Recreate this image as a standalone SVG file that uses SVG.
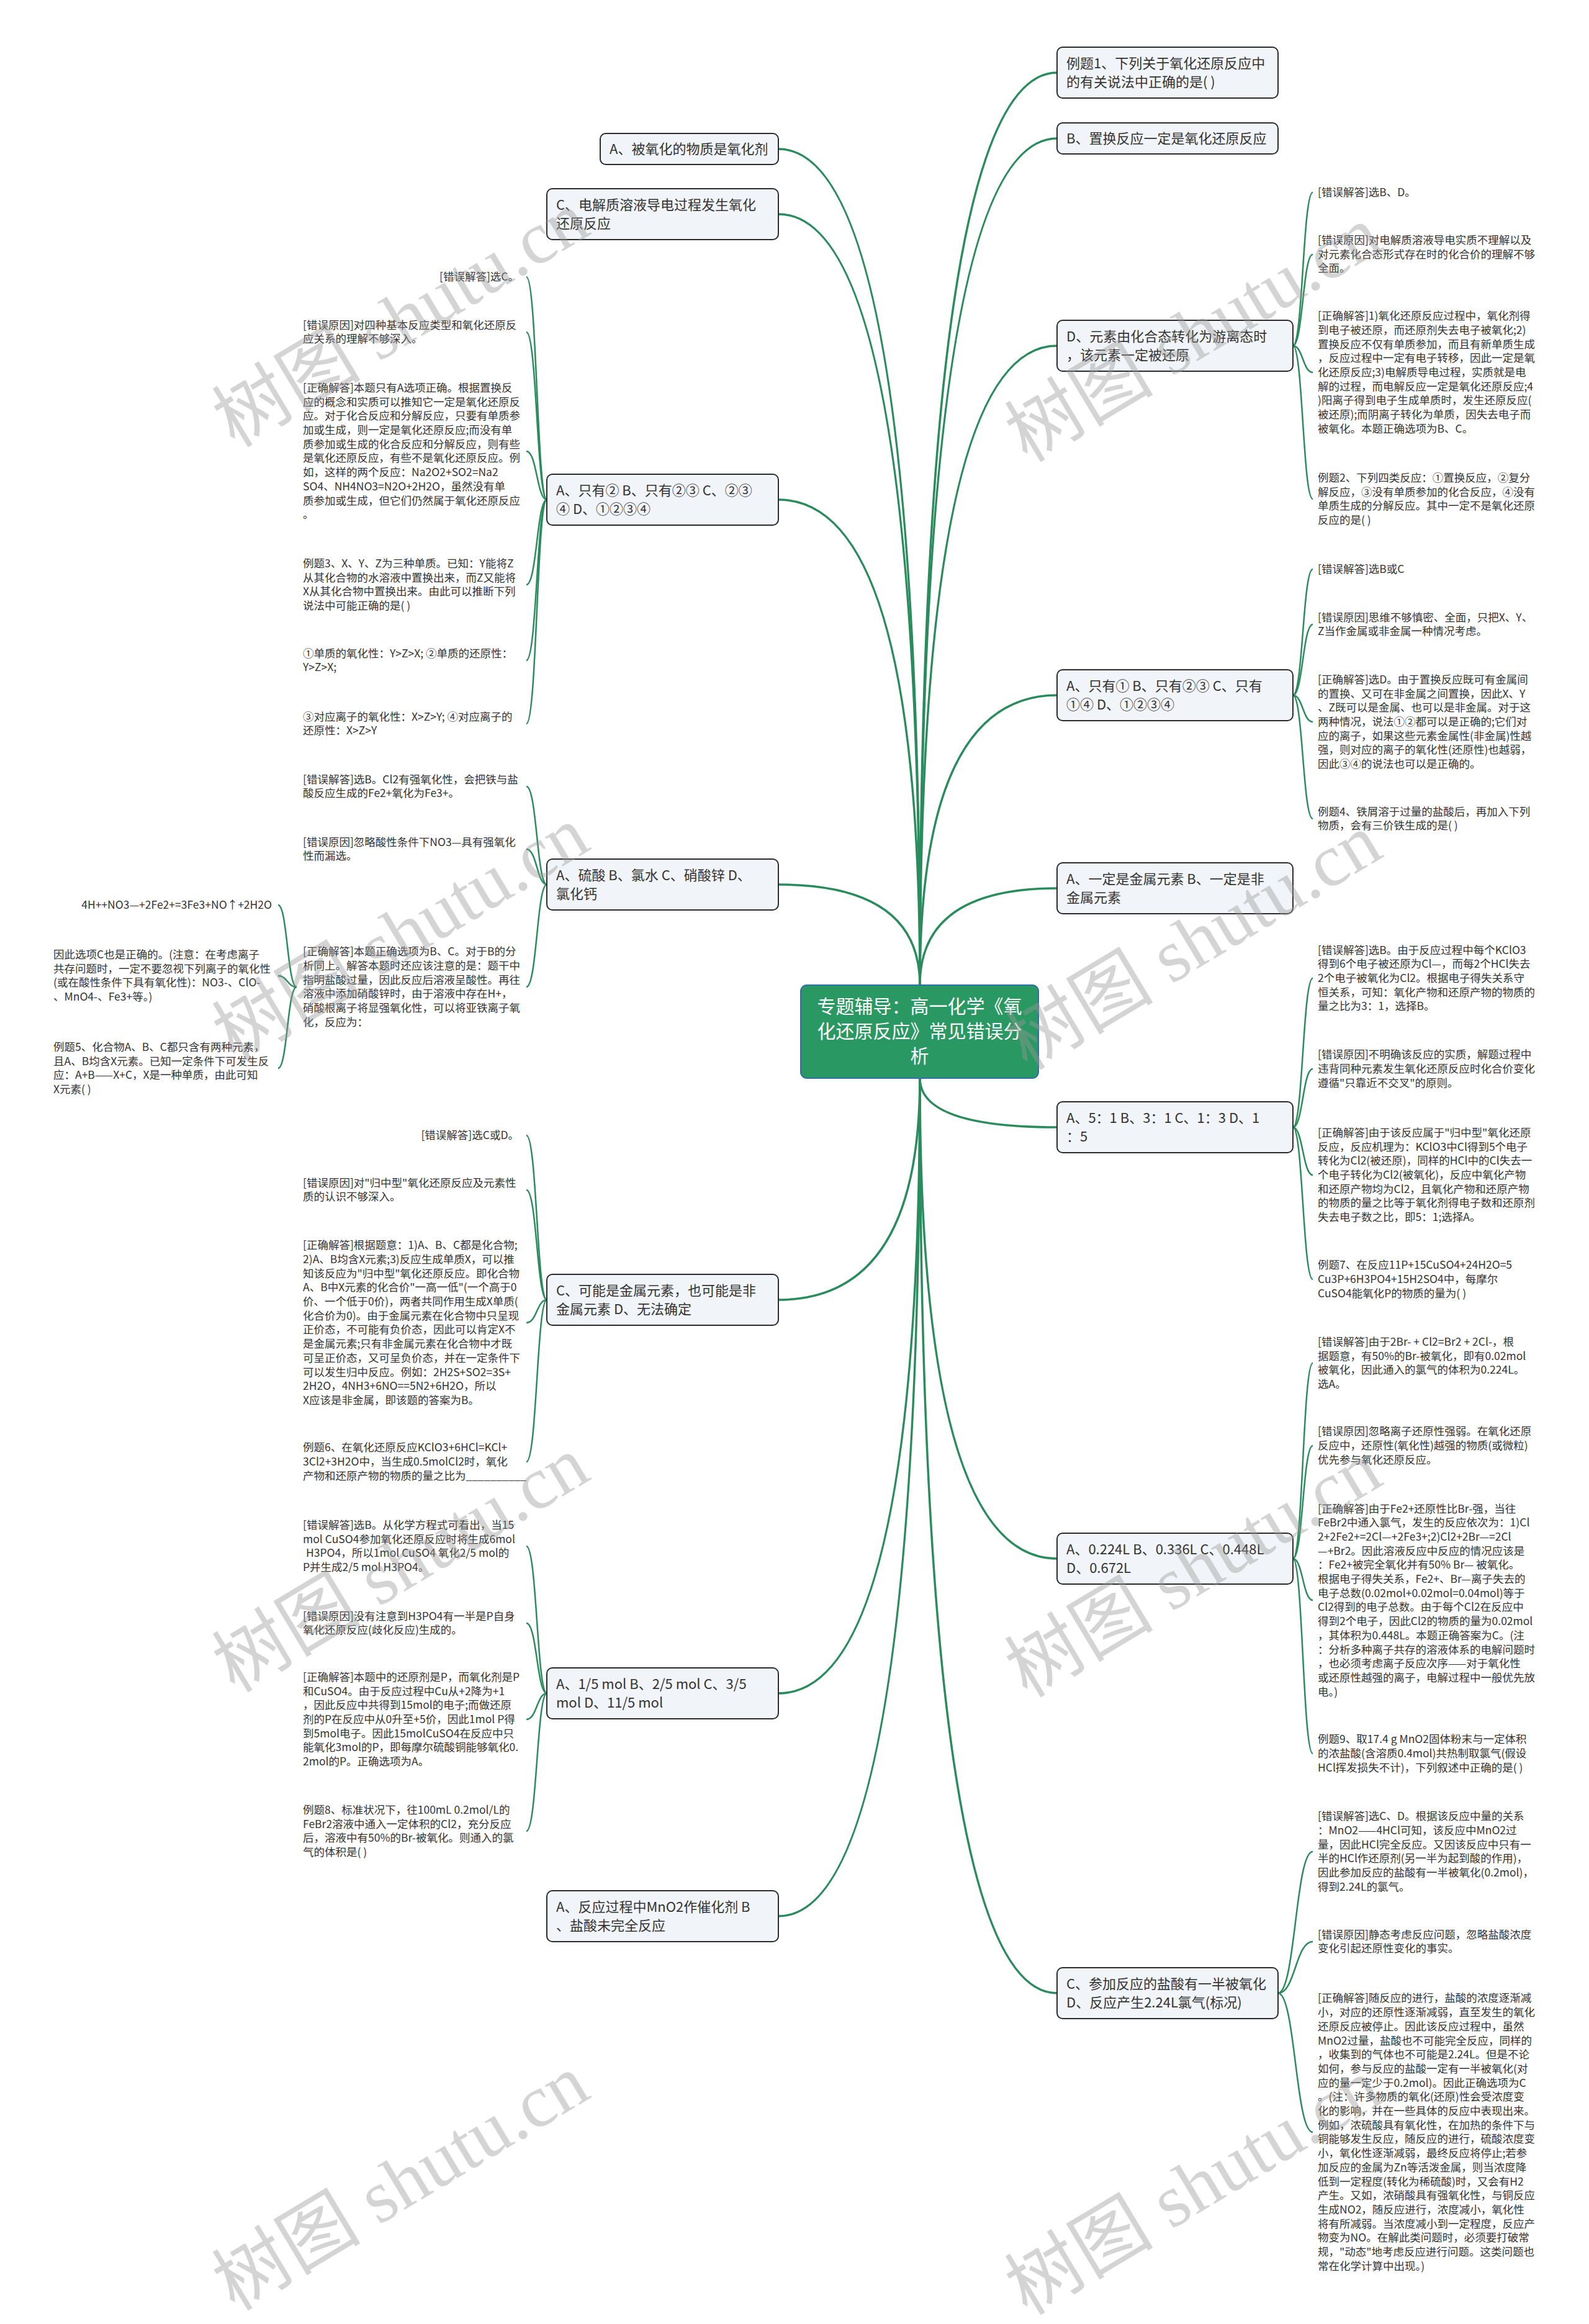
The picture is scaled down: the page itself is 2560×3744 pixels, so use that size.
<svg xmlns="http://www.w3.org/2000/svg" width="2560" height="3744" viewBox="0 0 2560 3744">
<style>
.bg{fill:#ffffff}
.n rect{fill:#f1f4f8;stroke:#2b2b2b;stroke-width:2}
.nt{font-family:"Noto Sans CJK SC","Liberation Sans",sans-serif;font-size:22px;fill:#333333}
.t{font-family:"Noto Sans CJK SC","Liberation Sans",sans-serif;font-size:17.5px;fill:#333333}
.ct{font-family:"Noto Sans CJK SC","Liberation Sans",sans-serif;font-size:30px;fill:#ffffff}
.m{fill:none;stroke:#2a8b5d;stroke-width:3.5}
.s{fill:none;stroke:#2a8b5d;stroke-width:2.5}
.wm{font-family:"Liberation Serif","Noto Sans CJK SC",serif;font-size:120px;fill:#999999;fill-opacity:0.42}
</style>
<rect class="bg" x="0" y="0" width="2560" height="3744"/>

<g id="connectors">
<!-- main, from top -->
<path class="m" d="M1482 1587 Q1482 117 1703 117"/>
<path class="m" d="M1482 1587 Q1482 223 1703 223"/>
<path class="m" d="M1482 1587 Q1482 557 1703 557"/>
<path class="m" d="M1482 1587 Q1482 1120 1703 1120"/>
<path class="m" d="M1482 1587 Q1482 1431 1703 1431"/>
<path class="m" d="M1482 1587 Q1482 240 1254 240"/>
<path class="m" d="M1482 1587 Q1482 345 1254 345"/>
<path class="m" d="M1482 1587 Q1482 805 1254 805"/>
<path class="m" d="M1482 1587 Q1482 1425 1254 1425"/>
<!-- main, from bottom -->
<path class="m" d="M1482 1737 Q1482 1816 1703 1816"/>
<path class="m" d="M1482 1737 Q1482 2511 1703 2511"/>
<path class="m" d="M1482 1737 Q1482 3211 1703 3211"/>
<path class="m" d="M1482 1737 Q1482 2094 1254 2094"/>
<path class="m" d="M1482 1737 Q1482 2728 1254 2728"/>
<path class="m" d="M1482 1737 Q1482 3087 1254 3087"/>
<!-- R3 children -->
<path class="s" d="M2083 557 C2099 557 2099 310 2115 310"/>
<path class="s" d="M2083 557 C2099 557 2099 410 2115 410"/>
<path class="s" d="M2083 557 C2099 557 2099 600 2115 600"/>
<path class="s" d="M2083 557 C2099 557 2099 804 2115 804"/>
<!-- R4 children -->
<path class="s" d="M2083 1120 C2099 1120 2099 917 2115 917"/>
<path class="s" d="M2083 1120 C2099 1120 2099 1006 2115 1006"/>
<path class="s" d="M2083 1120 C2099 1120 2099 1163 2115 1163"/>
<path class="s" d="M2083 1120 C2099 1120 2099 1319 2115 1319"/>
<!-- R6 children -->
<path class="s" d="M2083 1816 C2099 1816 2099 1576 2115 1576"/>
<path class="s" d="M2083 1816 C2099 1816 2099 1722 2115 1722"/>
<path class="s" d="M2083 1816 C2099 1816 2099 1893 2115 1893"/>
<path class="s" d="M2083 1816 C2099 1816 2099 2061 2115 2061"/>
<!-- R7 children -->
<path class="s" d="M2083 2511 C2099 2511 2099 2196 2115 2196"/>
<path class="s" d="M2083 2511 C2099 2511 2099 2329 2115 2329"/>
<path class="s" d="M2083 2511 C2099 2511 2099 2578 2115 2578"/>
<path class="s" d="M2083 2511 C2099 2511 2099 2825 2115 2825"/>
<!-- R8 children -->
<path class="s" d="M2059 3211 C2087 3211 2087 2983 2115 2983"/>
<path class="s" d="M2059 3211 C2087 3211 2087 3128 2115 3128"/>
<path class="s" d="M2059 3211 C2087 3211 2087 3435 2115 3435"/>
<!-- L3 children -->
<path class="s" d="M881 805 C865 805 865 446 848 446"/>
<path class="s" d="M881 805 C865 805 865 535 848 535"/>
<path class="s" d="M881 805 C865 805 865 727 848 727"/>
<path class="s" d="M881 805 C865 805 865 942 848 942"/>
<path class="s" d="M881 805 C865 805 865 1064 848 1064"/>
<path class="s" d="M881 805 C865 805 865 1166 848 1166"/>
<!-- L4 children -->
<path class="s" d="M881 1425 C865 1425 865 1267 848 1267"/>
<path class="s" d="M881 1425 C865 1425 865 1368 848 1368"/>
<path class="s" d="M881 1425 C865 1425 865 1590 848 1590"/>
<!-- G3 children -->
<path class="s" d="M478 1590 C463 1590 463 1458 448 1458"/>
<path class="s" d="M478 1590 C463 1590 463 1572 448 1572"/>
<path class="s" d="M478 1590 C463 1590 463 1721 448 1721"/>
<!-- L5 children -->
<path class="s" d="M881 2094 C865 2094 865 1829 848 1829"/>
<path class="s" d="M881 2094 C865 2094 865 1917 848 1917"/>
<path class="s" d="M881 2094 C865 2094 865 2131 848 2131"/>
<path class="s" d="M881 2094 C865 2094 865 2355 848 2355"/>
<!-- L6 children -->
<path class="s" d="M881 2728 C865 2728 865 2491 848 2491"/>
<path class="s" d="M881 2728 C865 2728 865 2615 848 2615"/>
<path class="s" d="M881 2728 C865 2728 865 2770 848 2770"/>
<path class="s" d="M881 2728 C865 2728 865 2950 848 2950"/>
</g>

<g id="center">
<rect x="1290" y="1587" width="383" height="150" rx="10" fill="#2a9863" stroke="#2f6fa8" stroke-width="2"/>
<text class="ct" text-anchor="middle" x="1481.5" y="1632">专题辅导：高一化学《氧</text>
<text class="ct" text-anchor="middle" x="1481.5" y="1672">化还原反应》常见错误分</text>
<text class="ct" text-anchor="middle" x="1481.5" y="1712">析</text>
</g>

<g id="R1" class="n"><rect x="1703" y="76" width="356" height="82" rx="9"/><text class="nt" x="1718" y="110">例题1、下列关于氧化还原反应中</text><text class="nt" x="1718" y="140">的有关说法中正确的是( )</text></g>
<g id="R2" class="n"><rect x="1703" y="198" width="356" height="50" rx="9"/><text class="nt" x="1718" y="231">B、置换反应一定是氧化还原反应</text></g>
<g id="R3" class="n"><rect x="1703" y="516" width="380" height="82" rx="9"/><text class="nt" x="1718" y="550">D、元素由化合态转化为游离态时</text><text class="nt" x="1718" y="580">，该元素一定被还原</text></g>
<g id="R4" class="n"><rect x="1703" y="1079" width="380" height="82" rx="9"/><text class="nt" x="1718" y="1113">A、只有① B、只有②③ C、只有</text><text class="nt" x="1718" y="1143">①④ D、①②③④</text></g>
<g id="R5" class="n"><rect x="1703" y="1390" width="380" height="82" rx="9"/><text class="nt" x="1718" y="1424">A、一定是金属元素 B、一定是非</text><text class="nt" x="1718" y="1454">金属元素</text></g>
<g id="R6" class="n"><rect x="1703" y="1775" width="380" height="82" rx="9"/><text class="nt" x="1718" y="1809">A、5：1 B、3：1 C、1：3 D、1</text><text class="nt" x="1718" y="1839">：5</text></g>
<g id="R7" class="n"><rect x="1703" y="2470" width="380" height="82" rx="9"/><text class="nt" x="1718" y="2504">A、0.224L B、0.336L C、0.448L</text><text class="nt" x="1718" y="2534">D、0.672L</text></g>
<g id="R8" class="n"><rect x="1703" y="3170" width="356" height="82" rx="9"/><text class="nt" x="1718" y="3204">C、参加反应的盐酸有一半被氧化</text><text class="nt" x="1718" y="3234">D、反应产生2.24L氯气(标况)</text></g>

<g id="L1" class="n"><rect x="967" y="215" width="287" height="50" rx="9"/><text class="nt" x="982" y="248">A、被氧化的物质是氧化剂</text></g>
<g id="L2" class="n"><rect x="881" y="304" width="373" height="82" rx="9"/><text class="nt" x="896" y="338">C、电解质溶液导电过程发生氧化</text><text class="nt" x="896" y="368">还原反应</text></g>
<g id="L3" class="n"><rect x="881" y="764" width="373" height="82" rx="9"/><text class="nt" x="896" y="798">A、只有② B、只有②③ C、②③</text><text class="nt" x="896" y="828">④ D、①②③④</text></g>
<g id="L4" class="n"><rect x="881" y="1384" width="373" height="82" rx="9"/><text class="nt" x="896" y="1418">A、硫酸 B、氯水 C、硝酸锌 D、</text><text class="nt" x="896" y="1448">氯化钙</text></g>
<g id="L5" class="n"><rect x="881" y="2053" width="373" height="82" rx="9"/><text class="nt" x="896" y="2087">C、可能是金属元素，也可能是非</text><text class="nt" x="896" y="2117">金属元素 D、无法确定</text></g>
<g id="L6" class="n"><rect x="881" y="2687" width="373" height="82" rx="9"/><text class="nt" x="896" y="2721">A、1/5 mol B、2/5 mol C、3/5</text><text class="nt" x="896" y="2751">mol D、11/5 mol</text></g>
<g id="L7" class="n"><rect x="881" y="3046" width="373" height="82" rx="9"/><text class="nt" x="896" y="3080">A、反应过程中MnO2作催化剂 B</text><text class="nt" x="896" y="3110">、盐酸未完全反应</text></g>

<!-- Right R3 text children -->
<g id="A1"><text class="t" x="2123" y="316">[错误解答]选B、D。</text></g>
<g id="A2"><text class="t" x="2123" y="393"><tspan x="2123" dy="0">[错误原因]对电解质溶液导电实质不理解以及</tspan><tspan x="2123" dy="22.7">对元素化合态形式存在时的化合价的理解不够</tspan><tspan x="2123" dy="22.7">全面。</tspan></text></g>
<g id="A3"><text class="t" x="2123" y="515.2"><tspan x="2123" dy="0">[正确解答]1)氧化还原反应过程中，氧化剂得</tspan><tspan x="2123" dy="22.7">到电子被还原，而还原剂失去电子被氧化;2)</tspan><tspan x="2123" dy="22.7">置换反应不仅有单质参加，而且有新单质生成</tspan><tspan x="2123" dy="22.7">，反应过程中一定有电子转移，因此一定是氧</tspan><tspan x="2123" dy="22.7">化还原反应;3)电解质导电过程，实质就是电</tspan><tspan x="2123" dy="22.7">解的过程，而电解反应一定是氧化还原反应;4</tspan><tspan x="2123" dy="22.7">)阳离子得到电子生成单质时，发生还原反应(</tspan><tspan x="2123" dy="22.7">被还原);而阴离子转化为单质，因失去电子而</tspan><tspan x="2123" dy="22.7">被氧化。本题正确选项为B、C。</tspan></text></g>
<g id="A4"><text class="t" x="2123" y="776"><tspan x="2123" dy="0">例题2、下列四类反应：①置换反应，②复分</tspan><tspan x="2123" dy="22.7">解反应，③没有单质参加的化合反应，④没有</tspan><tspan x="2123" dy="22.7">单质生成的分解反应。其中一定不是氧化还原</tspan><tspan x="2123" dy="22.7">反应的是( )</tspan></text></g>

<!-- Right R4 text children -->
<g id="B1"><text class="t" x="2123" y="923">[错误解答]选B或C</text></g>
<g id="B2"><text class="t" x="2123" y="1000.6"><tspan x="2123" dy="0">[错误原因]思维不够慎密、全面，只把X、Y、</tspan><tspan x="2123" dy="22.7">Z当作金属或非金属一种情况考虑。</tspan></text></g>
<g id="B3"><text class="t" x="2123" y="1100.9"><tspan x="2123" dy="0">[正确解答]选D。由于置换反应既可有金属间</tspan><tspan x="2123" dy="22.7">的置换、又可在非金属之间置换，因此X、Y</tspan><tspan x="2123" dy="22.7">、Z既可以是金属、也可以是非金属。对于这</tspan><tspan x="2123" dy="22.7">两种情况，说法①②都可以是正确的;它们对</tspan><tspan x="2123" dy="22.7">应的离子，如果这些元素金属性(非金属)性越</tspan><tspan x="2123" dy="22.7">强，则对应的离子的氧化性(还原性)也越弱，</tspan><tspan x="2123" dy="22.7">因此③④的说法也可以是正确的。</tspan></text></g>
<g id="B4"><text class="t" x="2123" y="1313.6"><tspan x="2123" dy="0">例题4、铁屑溶于过量的盐酸后，再加入下列</tspan><tspan x="2123" dy="22.7">物质，会有三价铁生成的是( )</tspan></text></g>

<!-- Right R6 text children -->
<g id="C1"><text class="t" x="2123" y="1536.6"><tspan x="2123" dy="0">[错误解答]选B。由于反应过程中每个KClO3</tspan><tspan x="2123" dy="22.7">得到6个电子被还原为Cl—，而每2个HCl失去</tspan><tspan x="2123" dy="22.7">2个电子被氧化为Cl2。根据电子得失关系守</tspan><tspan x="2123" dy="22.7">恒关系，可知：氧化产物和还原产物的物质的</tspan><tspan x="2123" dy="22.7">量之比为3：1，选择B。</tspan></text></g>
<g id="C2"><text class="t" x="2123" y="1705.3"><tspan x="2123" dy="0">[错误原因]不明确该反应的实质，解题过程中</tspan><tspan x="2123" dy="22.7">违背同种元素发生氧化还原反应时化合价变化</tspan><tspan x="2123" dy="22.7">遵循"只靠近不交叉"的原则。</tspan></text></g>
<g id="C3"><text class="t" x="2123" y="1830.9"><tspan x="2123" dy="0">[正确解答]由于该反应属于"归中型"氧化还原</tspan><tspan x="2123" dy="22.7">反应，反应机理为：KClO3中Cl得到5个电子</tspan><tspan x="2123" dy="22.7">转化为Cl2(被还原)，同样的HCl中的Cl失去一</tspan><tspan x="2123" dy="22.7">个电子转化为Cl2(被氧化)，反应中氧化产物</tspan><tspan x="2123" dy="22.7">和还原产物均为Cl2，且氧化产物和还原产物</tspan><tspan x="2123" dy="22.7">的物质的量之比等于氧化剂得电子数和还原剂</tspan><tspan x="2123" dy="22.7">失去电子数之比，即5：1;选择A。</tspan></text></g>
<g id="C4"><text class="t" x="2123" y="2044.3"><tspan x="2123" dy="0">例题7、在反应11P+15CuSO4+24H2O=5</tspan><tspan x="2123" dy="22.7">Cu3P+6H3PO4+15H2SO4中，每摩尔</tspan><tspan x="2123" dy="22.7">CuSO4能氧化P的物质的量为( )</tspan></text></g>

<!-- Right R7 text children -->
<g id="D1"><text class="t" x="2123" y="2168"><tspan x="2123" dy="0">[错误解答]由于2Br- + Cl2=Br2 + 2Cl-，根</tspan><tspan x="2123" dy="22.7">据题意，有50%的Br-被氧化，即有0.02mol</tspan><tspan x="2123" dy="22.7">被氧化，因此通入的氯气的体积为0.224L。</tspan><tspan x="2123" dy="22.7">选A。</tspan></text></g>
<g id="D2"><text class="t" x="2123" y="2312.3"><tspan x="2123" dy="0">[错误原因]忽略离子还原性强弱。在氧化还原</tspan><tspan x="2123" dy="22.7">反应中，还原性(氧化性)越强的物质(或微粒)</tspan><tspan x="2123" dy="22.7">优先参与氧化还原反应。</tspan></text></g>
<g id="D3"><text class="t" x="2123" y="2436.5"><tspan x="2123" dy="0">[正确解答]由于Fe2+还原性比Br-强，当往</tspan><tspan x="2123" dy="22.7">FeBr2中通入氯气，发生的反应依次为：1)Cl</tspan><tspan x="2123" dy="22.7">2+2Fe2+=2Cl—+2Fe3+;2)Cl2+2Br—=2Cl</tspan><tspan x="2123" dy="22.7">—+Br2。因此溶液反应中反应的情况应该是</tspan><tspan x="2123" dy="22.7">：Fe2+被完全氧化并有50% Br— 被氧化。</tspan><tspan x="2123" dy="22.7">根据电子得失关系，Fe2+、Br—离子失去的</tspan><tspan x="2123" dy="22.7">电子总数(0.02mol+0.02mol=0.04mol)等于</tspan><tspan x="2123" dy="22.7">Cl2得到的电子总数。由于每个Cl2在反应中</tspan><tspan x="2123" dy="22.7">得到2个电子，因此Cl2的物质的量为0.02mol</tspan><tspan x="2123" dy="22.7">，其体积为0.448L。本题正确答案为C。(注</tspan><tspan x="2123" dy="22.7">：分析多种离子共存的溶液体系的电解问题时</tspan><tspan x="2123" dy="22.7">，也必须考虑离子反应次序——对于氧化性</tspan><tspan x="2123" dy="22.7">或还原性越强的离子，电解过程中一般优先放</tspan><tspan x="2123" dy="22.7">电。)</tspan></text></g>
<g id="D4"><text class="t" x="2123" y="2808.3"><tspan x="2123" dy="0">例题9、取17.4 g MnO2固体粉末与一定体积</tspan><tspan x="2123" dy="22.7">的浓盐酸(含溶质0.4mol)共热制取氯气(假设</tspan><tspan x="2123" dy="22.7">HCl挥发损失不计)，下列叙述中正确的是( )</tspan></text></g>

<!-- Right R8 text children -->
<g id="E1"><text class="t" x="2123" y="2932.3"><tspan x="2123" dy="0">[错误解答]选C、D。根据该反应中量的关系</tspan><tspan x="2123" dy="22.7">：MnO2——4HCl可知，该反应中MnO2过</tspan><tspan x="2123" dy="22.7">量，因此HCl完全反应。又因该反应中只有一</tspan><tspan x="2123" dy="22.7">半的HCl作还原剂(另一半为起到酸的作用)，</tspan><tspan x="2123" dy="22.7">因此参加反应的盐酸有一半被氧化(0.2mol)，</tspan><tspan x="2123" dy="22.7">得到2.24L的氯气。</tspan></text></g>
<g id="E2"><text class="t" x="2123" y="3122.7"><tspan x="2123" dy="0">[错误原因]静态考虑反应问题，忽略盐酸浓度</tspan><tspan x="2123" dy="22.7">变化引起还原性变化的事实。</tspan></text></g>
<g id="E3"><text class="t" x="2123" y="3225.4"><tspan x="2123" dy="0">[正确解答]随反应的进行，盐酸的浓度逐渐减</tspan><tspan x="2123" dy="22.7">小，对应的还原性逐渐减弱，直至发生的氧化</tspan><tspan x="2123" dy="22.7">还原反应被停止。因此该反应过程中，虽然</tspan><tspan x="2123" dy="22.7">MnO2过量，盐酸也不可能完全反应，同样的</tspan><tspan x="2123" dy="22.7">，收集到的气体也不可能是2.24L。但是不论</tspan><tspan x="2123" dy="22.7">如何，参与反应的盐酸一定有一半被氧化(对</tspan><tspan x="2123" dy="22.7">应的量一定少于0.2mol)。因此正确选项为C</tspan><tspan x="2123" dy="22.7">。(注：许多物质的氧化(还原)性会受浓度变</tspan><tspan x="2123" dy="22.7">化的影响，并在一些具体的反应中表现出来。</tspan><tspan x="2123" dy="22.7">例如，浓硫酸具有氧化性，在加热的条件下与</tspan><tspan x="2123" dy="22.7">铜能够发生反应，随反应的进行，硫酸浓度变</tspan><tspan x="2123" dy="22.7">小，氧化性逐渐减弱，最终反应将停止;若参</tspan><tspan x="2123" dy="22.7">加反应的金属为Zn等活泼金属，则当浓度降</tspan><tspan x="2123" dy="22.7">低到一定程度(转化为稀硫酸)时，又会有H2</tspan><tspan x="2123" dy="22.7">产生。又如，浓硝酸具有强氧化性，与铜反应</tspan><tspan x="2123" dy="22.7">生成NO2，随反应进行，浓度减小，氧化性</tspan><tspan x="2123" dy="22.7">将有所减弱。当浓度减小到一定程度，反应产</tspan><tspan x="2123" dy="22.7">物变为NO。在解此类问题时，必须要打破常</tspan><tspan x="2123" dy="22.7">规，"动态"地考虑反应进行问题。这类问题也</tspan><tspan x="2123" dy="22.7">常在化学计算中出现。)</tspan></text></g>

<!-- Left L3 text children -->
<g id="F1"><text class="t" x="836" y="452" text-anchor="end">[错误解答]选C。</text></g>
<g id="F2"><text class="t" x="488" y="529.7"><tspan x="488" dy="0">[错误原因]对四种基本反应类型和氧化还原反</tspan><tspan x="488" dy="22.7">应关系的理解不够深入。</tspan></text></g>
<g id="F3"><text class="t" x="488" y="630.9"><tspan x="488" dy="0">[正确解答]本题只有A选项正确。根据置换反</tspan><tspan x="488" dy="22.7">应的概念和实质可以推知它一定是氧化还原反</tspan><tspan x="488" dy="22.7">应。对于化合反应和分解反应，只要有单质参</tspan><tspan x="488" dy="22.7">加或生成，则一定是氧化还原反应;而没有单</tspan><tspan x="488" dy="22.7">质参加或生成的化合反应和分解反应，则有些</tspan><tspan x="488" dy="22.7">是氧化还原反应，有些不是氧化还原反应。例</tspan><tspan x="488" dy="22.7">如，这样的两个反应：Na2O2+SO2=Na2</tspan><tspan x="488" dy="22.7">SO4、NH4NO3=N2O+2H2O，虽然没有单</tspan><tspan x="488" dy="22.7">质参加或生成，但它们仍然属于氧化还原反应</tspan><tspan x="488" dy="22.7">。</tspan></text></g>
<g id="F4"><text class="t" x="488" y="914"><tspan x="488" dy="0">例题3、X、Y、Z为三种单质。已知：Y能将Z</tspan><tspan x="488" dy="22.7">从其化合物的水溶液中置换出来，而Z又能将</tspan><tspan x="488" dy="22.7">X从其化合物中置换出来。由此可以推断下列</tspan><tspan x="488" dy="22.7">说法中可能正确的是( )</tspan></text></g>
<g id="F5"><text class="t" x="488" y="1058.7"><tspan x="488" dy="0">①单质的氧化性：Y&gt;Z&gt;X; ②单质的还原性：</tspan><tspan x="488" dy="22.7">Y&gt;Z&gt;X;</tspan></text></g>
<g id="F6"><text class="t" x="488" y="1160.7"><tspan x="488" dy="0">③对应离子的氧化性：X&gt;Z&gt;Y; ④对应离子的</tspan><tspan x="488" dy="22.7">还原性：X&gt;Z&gt;Y</tspan></text></g>

<!-- Left L4 text children -->
<g id="G1"><text class="t" x="488" y="1261.7"><tspan x="488" dy="0">[错误解答]选B。Cl2有强氧化性，会把铁与盐</tspan><tspan x="488" dy="22.7">酸反应生成的Fe2+氧化为Fe3+。</tspan></text></g>
<g id="G2"><text class="t" x="488" y="1362.7"><tspan x="488" dy="0">[错误原因]忽略酸性条件下NO3—具有强氧化</tspan><tspan x="488" dy="22.7">性而漏选。</tspan></text></g>
<g id="G3"><text class="t" x="488" y="1539.3"><tspan x="488" dy="0">[正确解答]本题正确选项为B、C。对于B的分</tspan><tspan x="488" dy="22.7">析同上。解答本题时还应该注意的是：题干中</tspan><tspan x="488" dy="22.7">指明盐酸过量，因此反应后溶液呈酸性。再往</tspan><tspan x="488" dy="22.7">溶液中添加硝酸锌时，由于溶液中存在H+，</tspan><tspan x="488" dy="22.7">硝酸根离子将显强氧化性，可以将亚铁离子氧</tspan><tspan x="488" dy="22.7">化，反应为：</tspan></text></g>
<g id="G3a"><text class="t" x="438" y="1464" text-anchor="end">4H++NO3—+2Fe2+=3Fe3+NO↑+2H2O</text></g>
<g id="G3b"><text class="t" x="86" y="1544"><tspan x="86" dy="0">因此选项C也是正确的。(注意：在考虑离子</tspan><tspan x="86" dy="22.7">共存问题时，一定不要忽视下列离子的氧化性</tspan><tspan x="86" dy="22.7">(或在酸性条件下具有氧化性)：NO3-、ClO-</tspan><tspan x="86" dy="22.7">、MnO4-、Fe3+等。)</tspan></text></g>
<g id="G3c"><text class="t" x="86" y="1693"><tspan x="86" dy="0">例题5、化合物A、B、C都只含有两种元素，</tspan><tspan x="86" dy="22.7">且A、B均含X元素。已知一定条件下可发生反</tspan><tspan x="86" dy="22.7">应：A+B——X+C，X是一种单质，由此可知</tspan><tspan x="86" dy="22.7">X元素( )</tspan></text></g>

<!-- Left L5 text children -->
<g id="H1"><text class="t" x="836" y="1835" text-anchor="end">[错误解答]选C或D。</text></g>
<g id="H2"><text class="t" x="488" y="1911.7"><tspan x="488" dy="0">[错误原因]对"归中型"氧化还原反应及元素性</tspan><tspan x="488" dy="22.7">质的认识不够深入。</tspan></text></g>
<g id="H3"><text class="t" x="488" y="2012.2"><tspan x="488" dy="0">[正确解答]根据题意：1)A、B、C都是化合物;</tspan><tspan x="488" dy="22.7">2)A、B均含X元素;3)反应生成单质X，可以推</tspan><tspan x="488" dy="22.7">知该反应为"归中型"氧化还原反应。即化合物</tspan><tspan x="488" dy="22.7">A、B中X元素的化合价"一高一低"(一个高于0</tspan><tspan x="488" dy="22.7">价、一个低于0价)，两者共同作用生成X单质(</tspan><tspan x="488" dy="22.7">化合价为0)。由于金属元素在化合物中只呈现</tspan><tspan x="488" dy="22.7">正价态，不可能有负价态，因此可以肯定X不</tspan><tspan x="488" dy="22.7">是金属元素;只有非金属元素在化合物中才既</tspan><tspan x="488" dy="22.7">可呈正价态，又可呈负价态，并在一定条件下</tspan><tspan x="488" dy="22.7">可以发生归中反应。例如：2H2S+SO2=3S+</tspan><tspan x="488" dy="22.7">2H2O，4NH3+6NO==5N2+6H2O，所以</tspan><tspan x="488" dy="22.7">X应该是非金属，即该题的答案为B。</tspan></text></g>
<g id="H4"><text class="t" x="488" y="2338.3"><tspan x="488" dy="0">例题6、在氧化还原反应KClO3+6HCl=KCl+</tspan><tspan x="488" dy="22.7">3Cl2+3H2O中，当生成0.5molCl2时，氧化</tspan><tspan x="488" dy="22.7">产物和还原产物的物质的量之比为__________</tspan></text></g>

<!-- Left L6 text children -->
<g id="I1"><text class="t" x="488" y="2463"><tspan x="488" dy="0">[错误解答]选B。从化学方程式可看出，当15</tspan><tspan x="488" dy="22.7">mol CuSO4参加氧化还原反应时将生成6mol</tspan><tspan x="493" dy="22.7">H3PO4，所以1mol CuSO4 氧化2/5 mol的</tspan><tspan x="488" dy="22.7">P并生成2/5 mol H3PO4。</tspan></text></g>
<g id="I2"><text class="t" x="488" y="2609.7"><tspan x="488" dy="0">[错误原因]没有注意到H3PO4有一半是P自身</tspan><tspan x="488" dy="22.7">氧化还原反应(歧化反应)生成的。</tspan></text></g>
<g id="I3"><text class="t" x="488" y="2707.9"><tspan x="488" dy="0">[正确解答]本题中的还原剂是P，而氧化剂是P</tspan><tspan x="488" dy="22.7">和CuSO4。由于反应过程中Cu从+2降为+1</tspan><tspan x="488" dy="22.7">，因此反应中共得到15mol的电子;而做还原</tspan><tspan x="488" dy="22.7">剂的P在反应中从0升至+5价，因此1mol P得</tspan><tspan x="488" dy="22.7">到5mol电子。因此15molCuSO4在反应中只</tspan><tspan x="488" dy="22.7">能氧化3mol的P，即每摩尔硫酸铜能够氧化0.</tspan><tspan x="488" dy="22.7">2mol的P。正确选项为A。</tspan></text></g>
<g id="I4"><text class="t" x="488" y="2922"><tspan x="488" dy="0">例题8、标准状况下，往100mL 0.2mol/L的</tspan><tspan x="488" dy="22.7">FeBr2溶液中通入一定体积的Cl2，充分反应</tspan><tspan x="488" dy="22.7">后，溶液中有50%的Br-被氧化。则通入的氯</tspan><tspan x="488" dy="22.7">气的体积是( )</tspan></text></g>

<g id="watermarks">
<text class="wm" text-anchor="middle" x="645" y="555" transform="rotate(-31 645 513)">树图 shutu.cn</text>
<text class="wm" text-anchor="middle" x="1922" y="579" transform="rotate(-31 1922 537)">树图 shutu.cn</text>
<text class="wm" text-anchor="middle" x="645" y="1546" transform="rotate(-31 645 1504)">树图 shutu.cn</text>
<text class="wm" text-anchor="middle" x="1922" y="1558" transform="rotate(-31 1922 1516)">树图 shutu.cn</text>
<text class="wm" text-anchor="middle" x="645" y="2561" transform="rotate(-31 645 2519)">树图 shutu.cn</text>
<text class="wm" text-anchor="middle" x="1922" y="2569" transform="rotate(-31 1922 2527)">树图 shutu.cn</text>
<text class="wm" text-anchor="middle" x="645" y="3557" transform="rotate(-31 645 3515)">树图 shutu.cn</text>
<text class="wm" text-anchor="middle" x="1922" y="3564" transform="rotate(-31 1922 3522)">树图 shutu.cn</text>
</g>
</svg>
